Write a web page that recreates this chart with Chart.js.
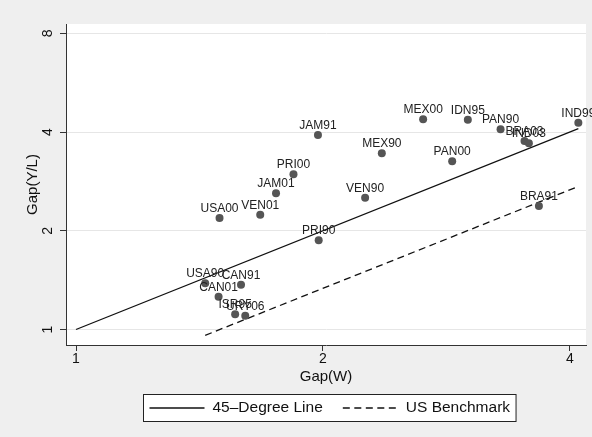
<!DOCTYPE html>
<html>
<head>
<meta charset="utf-8">
<script src="https://cdn.jsdelivr.net/npm/chart.js@4/dist/chart.umd.min.js"></script>
<style>
  html, body { margin: 0; padding: 0; background: #efefef; }
  #wrap { width: 592px; height: 437px; }
</style>
</head>
<body>
<div id="wrap"><canvas id="c" width="592" height="437"></canvas></div>
<script>
// Country-year observations: wage gap (x) against labour-productivity gap (y)
const countries = ['USA90','CAN91','CAN01','ISR95','URY06','JAM91','PRI00','JAM01','USA00','VEN01','VEN90',
                   'PRI90','MEX90','MEX00','IDN95','PAN90','BRA03','IND03','IND99','PAN00','BRA91'];
const gapW  = [1.437, 1.589, 1.492, 1.563, 1.608, 1.972, 1.841, 1.753, 1.496, 1.677, 2.251,
               1.976, 2.359, 2.649, 3.003, 3.292, 3.521, 3.564, 4.095, 2.874, 3.666];
const gapYL = [1.383, 1.370, 1.259, 1.113, 1.102, 3.920, 2.974, 2.603, 2.188, 2.240, 2.523,
               1.871, 3.449, 4.376, 4.364, 4.080, 3.758, 3.698, 4.273, 3.259, 2.380];

// Reference lines (end points)
const degreeLineX = [1, 4.095];
const degreeLineY = [1, 4.095];
const benchLineX  = [1.437, 4.095];
const benchLineY  = [0.960, 2.730];

// Axis ticks
const xTicks = [1, 2, 4];
const yTicks = [1, 2, 4, 8];

const FONT = "'Liberation Sans', Arial, Helvetica, sans-serif";
const toPts = (xs, ys) => xs.map((x, i) => ({x: x, y: ys[i]}));

// Gray page, white plot region
const backdrop = {
  id: 'backdrop',
  beforeDraw(chart) {
    const {ctx, chartArea: a} = chart;
    ctx.save();
    ctx.fillStyle = '#efefef';
    ctx.fillRect(0, 0, chart.width, chart.height);
    ctx.fillStyle = '#ffffff';
    ctx.fillRect(a.left, a.top, a.right - a.left, a.bottom - a.top);
    ctx.restore();
  }
};

// Country-year labels centred above each marker
const pointLabels = {
  id: 'pointLabels',
  afterDatasetsDraw(chart) {
    const {ctx} = chart;
    const meta = chart.getDatasetMeta(0);
    ctx.save();
    ctx.font = '12px ' + FONT;
    ctx.fillStyle = '#222';
    ctx.textAlign = 'center';
    ctx.textBaseline = 'alphabetic';
    meta.data.forEach((pt, i) => {
      ctx.fillText(countries[i], pt.x, pt.y - 6);
    });
    ctx.restore();
  }
};

// Boxed legend below the axis title, one row, centred on the plot
const boxLegend = {
  id: 'boxLegend',
  afterDraw(chart) {
    const {ctx, chartArea: a} = chart;
    const items = chart.data.datasets.filter(d => d.inLegend);
    const sample = 55, gap = 8, between = 20, pad = 6;
    ctx.save();
    ctx.font = '15.5px ' + FONT;
    const widths = items.map(d => ctx.measureText(d.label).width);
    let total = pad * 2;
    widths.forEach((w, i) => { total += sample + gap + w + (i ? between : 0); });
    const cx = (a.left + a.right) / 2 + 3;
    const left = Math.round(cx - total / 2) + 0.5;
    const top = 394.5, h = 27;
    ctx.fillStyle = '#ffffff';
    ctx.fillRect(left, top, total, h);
    ctx.strokeStyle = '#222';
    ctx.lineWidth = 1;
    ctx.strokeRect(left, top, total, h);
    const midY = top + h / 2;
    let x = left + pad;
    items.forEach((d, i) => {
      if (i) x += between;
      ctx.beginPath();
      ctx.setLineDash(d.borderDash || []);
      ctx.strokeStyle = d.borderColor;
      ctx.lineWidth = d.borderWidth;
      ctx.moveTo(x, midY);
      ctx.lineTo(x + sample, midY);
      ctx.stroke();
      ctx.setLineDash([]);
      x += sample + gap;
      ctx.fillStyle = '#111';
      ctx.textAlign = 'left';
      ctx.textBaseline = 'middle';
      ctx.fillText(d.label, x, midY);
      x += widths[i];
    });
    ctx.restore();
  }
};

new Chart(document.getElementById('c'), {
  type: 'scatter',
  data: {
    datasets: [
      {
        label: 'Observations',
        data: toPts(gapW, gapYL),
        pointRadius: 4,
        pointBackgroundColor: '#555555',
        pointBorderWidth: 0,
        order: 0
      },
      {
        type: 'line',
        label: '45\u2013Degree Line',
        inLegend: true,
        data: toPts(degreeLineX, degreeLineY),
        borderColor: '#111111',
        borderWidth: 1.3,
        pointRadius: 0,
        fill: false,
        order: 1
      },
      {
        type: 'line',
        label: 'US Benchmark',
        inLegend: true,
        data: toPts(benchLineX, benchLineY),
        borderColor: '#111111',
        borderWidth: 1.3,
        borderDash: [7, 4.5],
        pointRadius: 0,
        fill: false,
        order: 1
      }
    ]
  },
  options: {
    responsive: false,
    animation: false,
    devicePixelRatio: 1,
    layout: { padding: { left: 0, right: 6, top: 24, bottom: 42 } },
    plugins: {
      legend: { display: false },
      tooltip: { enabled: false }
    },
    scales: {
      x: {
        type: 'logarithmic',
        min: 0.9723,
        max: 4.184,
        afterBuildTicks(scale) { scale.ticks = xTicks.map(v => ({value: v})); },
        afterFit(scale) { scale.height = 50; },
        ticks: {
          callback: v => String(v),
          font: { family: FONT, size: 14 },
          color: '#111',
          padding: 0
        },
        grid: { drawOnChartArea: false, drawTicks: true, tickLength: 6, tickColor: '#333', tickWidth: 1 },
        border: { display: true, color: '#333', width: 1 },
        title: {
          display: true,
          text: 'Gap(W)',
          font: { family: FONT, size: 15 },
          color: '#111',
          padding: { top: 0, bottom: 9 }
        }
      },
      y: {
        type: 'logarithmic',
        min: 0.8970,
        max: 8.54,
        afterBuildTicks(scale) { scale.ticks = yTicks.map(v => ({value: v})); },
        afterFit(scale) { scale.width = 66; },
        ticks: {
          callback: v => String(v),
          font: { family: FONT, size: 14 },
          color: '#111',
          minRotation: 90,
          maxRotation: 90,
          crossAlign: 'center',
          padding: 8
        },
        grid: { color: '#e6e6e6', lineWidth: 1, drawTicks: true, tickLength: 6, tickColor: '#333', tickWidth: 1 },
        border: { display: true, color: '#333', width: 1 },
        title: {
          display: true,
          text: 'Gap(Y/L)',
          font: { family: FONT, size: 15 },
          color: '#111',
          padding: { top: 24, bottom: 0 }
        }
      }
    }
  },
  plugins: [backdrop, pointLabels, boxLegend]
});
</script>
</body>
</html>
